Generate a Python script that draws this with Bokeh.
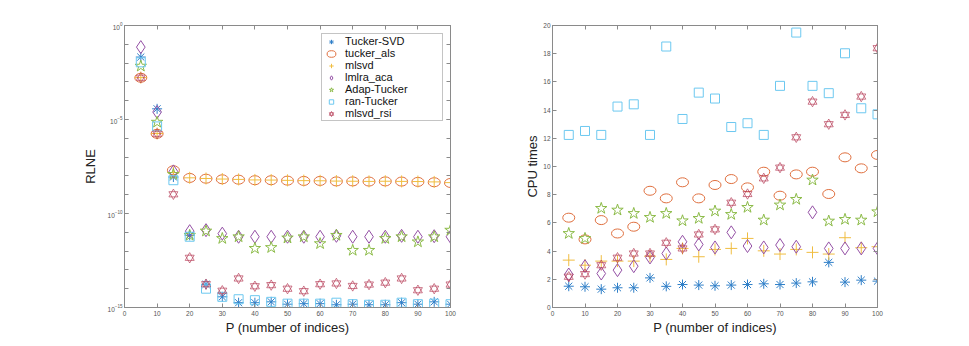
from bokeh.plotting import figure
from bokeh.layouts import row
from bokeh.models import (Range1d, FixedTicker, LinearAxis, LogAxis, Legend, LegendItem)
from bokeh.embed import file_html
from bokeh.resources import INLINE

P = [5, 10, 15, 20, 25, 30, 35, 40, 45, 50, 55, 60, 65, 70, 75, 80, 85, 90, 95, 100]

series_names = ["Tucker-SVD", "tucker_als", "mlsvd", "lmlra_aca", "Adap-Tucker", "ran-Tucker", "mlsvd_rsi"]

# RLNE (left panel, log scale)
rlne_tucker_svd = [2.1e-2, 3.7e-5, 8.7e-9, 6.9e-12, 1.7e-14, 3.7e-15, 1.8e-15, 1.8e-15, 2.0e-15, 1.5e-15,
                   1.6e-15, 1.6e-15, 1.4e-15, 1.5e-15, 1.4e-15, 1.4e-15, 1.8e-15, 1.5e-15, 2.0e-15, 1.5e-15]
rlne_tucker_als = [1.66e-3, 1.74e-6, 2.0e-8, 7.8e-9, 7.1e-9, 6.6e-9, 6.3e-9, 5.9e-9, 5.9e-9, 5.6e-9,
                   5.4e-9, 5.4e-9, 5.1e-9, 5.1e-9, 5.0e-9, 5.1e-9, 5.0e-9, 4.8e-9, 4.6e-9, 4.2e-9]
rlne_mlsvd = [1.7e-3, 1.8e-6, 1.5e-8, 7.9e-9, 7.3e-9, 6.8e-9, 6.5e-9, 6.1e-9, 6.0e-9, 5.8e-9,
              5.6e-9, 5.5e-9, 5.3e-9, 5.2e-9, 5.1e-9, 5.2e-9, 5.1e-9, 5.0e-9, 4.8e-9, 4.4e-9]
rlne_lmlra_aca = [7.1e-2, 2.5e-5, 1.74e-8, 1.15e-11, 1.3e-11, 8.5e-12, 5.8e-12, 5.8e-12, 5.8e-12, 5.8e-12,
                  5.8e-12, 5.8e-12, 6.5e-12, 5.8e-12, 5.8e-12, 5.8e-12, 6.5e-12, 5.8e-12, 6.2e-12, 5.8e-12]
rlne_adap_tucker = [6.9e-3, 7.2e-6, 1.2e-8, 6.9e-12, 1.17e-11, 4.7e-12, 5.8e-12, 1.4e-12, 1.55e-12, 5.0e-12,
                    5.8e-12, 2.5e-12, 6.9e-12, 1.1e-12, 1.1e-12, 4.7e-12, 5.8e-12, 3.1e-12, 5.8e-12, 1.3e-11]
rlne_ran_tucker = [1.1e-2, 4.3e-6, 5.9e-9, 5.8e-12, 1.0e-14, 3.7e-15, 2.75e-15, 2.45e-15, 2.0e-15, 1.6e-15,
                   1.6e-15, 1.6e-15, 1.8e-15, 1.5e-15, 1.4e-15, 1.4e-15, 1.8e-15, 1.5e-15, 1.6e-15, 1.5e-15]
rlne_mlsvd_rsi = [1.66e-3, 1.74e-6, 1.05e-9, 4.4e-13, 1.74e-14, 7.8e-15, 3.5e-14, 1.35e-14, 1.55e-14, 1.0e-14,
                  7.4e-15, 1.74e-14, 1.9e-14, 1.4e-14, 1.66e-14, 2.1e-14, 3.5e-14, 8.3e-15, 1.0e-14, 1.66e-14]

# CPU times (right panel)
cpu_tucker_svd = [1.51, 1.47, 1.30, 1.40, 1.40, 2.10, 1.50, 1.63, 1.59, 1.54,
                  1.59, 1.63, 1.68, 1.63, 1.73, 1.82, 3.20, 1.80, 1.94, 1.87]
cpu_tucker_als = [6.37, 4.83, 6.20, 5.25, 5.73, 8.28, 7.74, 8.88, 7.74, 8.69,
                  9.11, 8.52, 9.63, 7.93, 9.44, 9.63, 8.05, 10.65, 9.87, 10.82]
cpu_mlsvd = [3.36, 3.00, 3.29, 3.29, 3.29, 3.64, 3.41, 4.19, 3.60, 4.12,
             4.19, 4.90, 4.02, 3.79, 4.12, 3.91, 3.79, 4.95, 4.24, 4.31]
cpu_lmlra_aca = [2.34, 2.93, 2.41, 2.65, 2.93, 3.55, 3.83, 4.66, 4.47, 4.26,
                 5.33, 4.36, 4.26, 4.43, 4.31, 6.75, 4.19, 4.19, 4.19, 4.19]
cpu_adap_tucker = [5.25, 4.90, 7.03, 6.91, 6.67, 6.39, 6.67, 6.15, 6.32, 6.84,
                   6.60, 7.10, 6.20, 7.27, 7.67, 9.04, 6.13, 6.25, 6.20, 6.79]
cpu_ran_tucker = [12.24, 12.52, 12.24, 14.25, 14.41, 12.24, 18.51, 13.37, 15.24, 14.82,
                  12.80, 13.07, 12.24, 15.72, 19.50, 15.72, 15.20, 18.03, 14.13, 13.70]
cpu_mlsvd_rsi = [2.18, 2.37, 3.00, 3.53, 3.83, 3.83, 4.59, 4.19, 5.18, 5.54,
                 7.43, 8.05, 9.16, 9.92, 12.07, 14.60, 13.00, 13.66, 14.96, 18.39]

colors = ["#2f7fc8", "#e0703f", "#f0bd40", "#9450a5", "#8cbb48", "#6cc8f0", "#b53a55"]
FONT = "Liberation Sans"


def style_axis(ax, show_labels=True):
    ax.axis_line_color = "#8a8a8a"
    ax.major_tick_line_color = "#8a8a8a"
    ax.minor_tick_line_color = "#8a8a8a"
    ax.major_tick_in = 4
    ax.major_tick_out = 0
    ax.minor_tick_in = 4
    ax.minor_tick_out = 0
    ax.major_label_text_font = FONT
    ax.major_label_text_font_size = "6.5px"
    ax.axis_label_text_font = FONT
    ax.axis_label_text_font_style = "normal"
    ax.axis_label_text_color = "#222222"
    ax.axis_label_text_font_size = "13px"
    ax.major_label_standoff = 2
    if show_labels:
        ax.major_label_text_color = "#555555"
    else:
        ax.major_label_text_alpha = 0.0


def draw_series(p, ys):
    r = []
    r.append([p.scatter(P, ys[0], marker="asterisk", size=10, line_color=colors[0], line_width=1)])
    r.append([p.ellipse(P, ys[1], width=12, height=9, width_units="screen", height_units="screen",
                        fill_color=None, line_color=colors[1], line_width=1)])
    r.append([p.scatter(P, ys[2], marker="cross", size=12, line_color=colors[2], line_width=1)])
    r.append([p.scatter(P, ys[3], marker="diamond", size=13, fill_color=None, line_color=colors[3], line_width=1)])
    r.append([p.scatter(P, ys[4], marker="star", size=12, fill_color=None, line_color=colors[4], line_width=1)])
    r.append([p.scatter(P, ys[5], marker="square", size=9, fill_color=None, line_color=colors[5], line_width=1)])
    t1 = p.scatter(P, ys[6], marker="triangle", size=9, fill_color=None, line_color=colors[6],
                   line_width=0.8, line_alpha=0.85)
    t2 = p.scatter(P, ys[6], marker="inverted_triangle", size=9, fill_color=None, line_color=colors[6],
                   line_width=0.8, line_alpha=0.85)
    r.append([t1, t2])
    return r


# ---------- Left panel ----------
p1 = figure(width=497, height=340, y_axis_type="log", output_backend="svg", toolbar_location=None,
            x_range=Range1d(0, 100), y_range=Range1d(1e-15, 1),
            min_border_left=124, min_border_right=47, min_border_top=25, min_border_bottom=33)
p1.grid.visible = False
p1.outline_line_color = "#8a8a8a"

log_major = [1e-15, 1e-10, 1e-5, 1.0]
log_minor = [1e-15, 1e-14, 1e-13, 1e-12, 1e-11, 1e-10, 1e-9, 1e-8, 1e-7, 1e-6,
             1e-5, 1e-4, 1e-3, 1e-2, 1e-1, 1.0]
xt = [0, 10, 20, 30, 40, 50, 60, 70, 80, 90, 100]

p1.xaxis.ticker = FixedTicker(ticks=xt)
p1.yaxis.ticker = FixedTicker(ticks=log_major, minor_ticks=log_minor)
p1.xaxis.axis_label = "P (number of indices)"
p1.yaxis.axis_label = "RLNE"
for ax in p1.xaxis + p1.yaxis:
    style_axis(ax)
p1.xaxis.major_label_standoff = 3
p1.xaxis.axis_label_standoff = 1
p1.yaxis.axis_label_standoff = 7

ax_top1 = LinearAxis(ticker=FixedTicker(ticks=xt))
style_axis(ax_top1, show_labels=False)
p1.add_layout(ax_top1, "above")
ax_right1 = LogAxis(ticker=FixedTicker(ticks=log_major, minor_ticks=log_minor))
style_axis(ax_right1, show_labels=False)
p1.add_layout(ax_right1, "right")

rl = draw_series(p1, [rlne_tucker_svd, rlne_tucker_als, rlne_mlsvd, rlne_lmlra_aca,
                      rlne_adap_tucker, rlne_ran_tucker, rlne_mlsvd_rsi])
legend = Legend(items=[LegendItem(label=n, renderers=r) for n, r in zip(series_names, rl)],
                location=(197, 186))
legend.label_text_font = FONT
legend.label_text_font_size = "11px"
legend.label_text_color = "#111111"
legend.label_height = 11
legend.label_width = 96
legend.glyph_height = 11
legend.glyph_width = 16
legend.spacing = 0
legend.padding = 1
legend.margin = 0
legend.label_standoff = 6
legend.border_line_color = "#8a8a8a"
legend.background_fill_alpha = 1
p1.add_layout(legend, "center")

# ---------- Right panel ----------
p2 = figure(width=441, height=340, output_backend="svg", toolbar_location=None,
            x_range=Range1d(0, 100), y_range=Range1d(0, 20),
            min_border_left=55, min_border_right=61, min_border_top=25, min_border_bottom=33)
p2.grid.visible = False
p2.outline_line_color = "#8a8a8a"
yt = [0, 2, 4, 6, 8, 10, 12, 14, 16, 18, 20]
p2.xaxis.ticker = FixedTicker(ticks=xt)
p2.yaxis.ticker = FixedTicker(ticks=yt)
p2.xaxis.axis_label = "P (number of indices)"
p2.yaxis.axis_label = "CPU times"
for ax in p2.xaxis + p2.yaxis:
    style_axis(ax)
p2.xaxis.major_label_standoff = 3
p2.xaxis.axis_label_standoff = 1
p2.yaxis.axis_label_standoff = 0

ax_top2 = LinearAxis(ticker=FixedTicker(ticks=xt))
style_axis(ax_top2, show_labels=False)
p2.add_layout(ax_top2, "above")
ax_right2 = LinearAxis(ticker=FixedTicker(ticks=yt))
style_axis(ax_right2, show_labels=False)
p2.add_layout(ax_right2, "right")

draw_series(p2, [cpu_tucker_svd, cpu_tucker_als, cpu_mlsvd, cpu_lmlra_aca,
                 cpu_adap_tucker, cpu_ran_tucker, cpu_mlsvd_rsi])

layout = row(p1, p2)
open("out.html", "w").write(file_html(layout, INLINE))
